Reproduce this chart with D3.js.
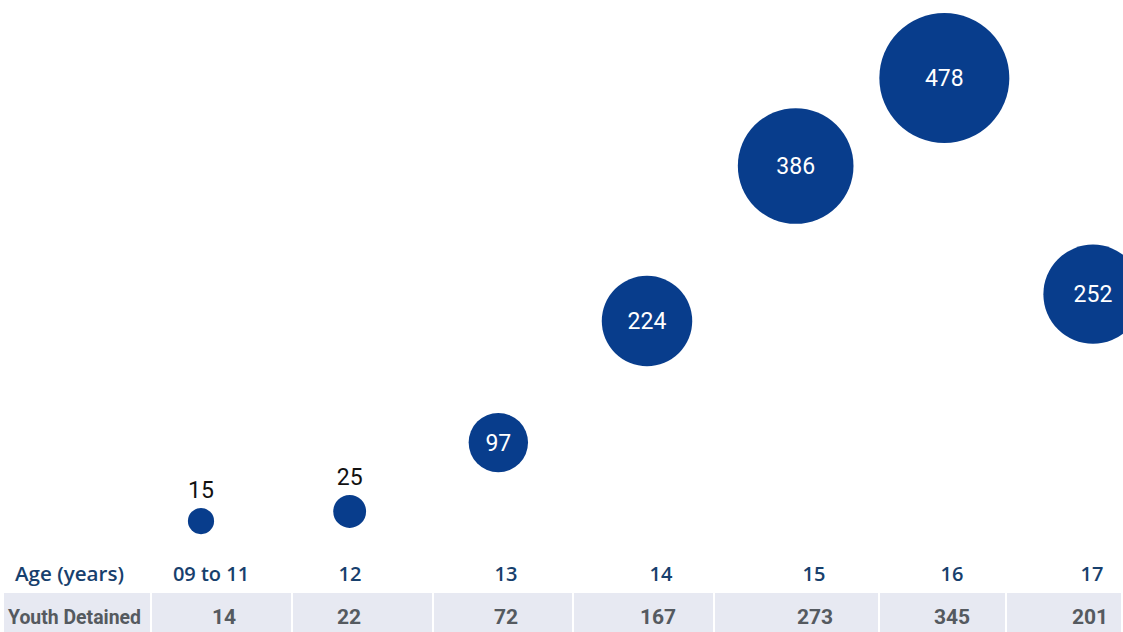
<!DOCTYPE html>
<html>
<head>
<meta charset="utf-8">
<script src="https://cdn.jsdelivr.net/npm/d3@7"></script>
<style>
  body { margin: 0; background: #fff; }
  svg { display: block; }
</style>
</head>
<body>
<svg width="1123" height="632"></svg>
<script>
// Age groups, bubble values (height + label) and youth detained (bubble size + table)
var ages = ["09 to 11", "12", "13", "14", "15", "16", "17"]
var bubbleValues = [15, 25, 97, 224, 386, 478, 252]
var detained = [14, 22, 72, 167, 273, 345, 201]

var svg = d3.select("svg"),
	width = +svg.attr("width"),
	height = +svg.attr("height")

var blue = "#083d8c"

// Bubble positions
var x = d3.scalePoint().domain(ages).range([201, 1093])
var y = d3.scaleLinear().domain([0, 500]).range([535.4, 56.9])
var r = d3.scaleSqrt().domain([0, 345]).range([0, 65])

var data = ages.map(function(a, i) {
	return { age: a, value: bubbleValues[i], detained: detained[i] }
})

// Table layout: column edges and text centres
var cellEdges = [4, 152, 293, 434, 574, 715, 880, 1007, 1123]
var ageTextX = [211, 350, 506, 661, 814, 952, 1092]
var numTextX = [224, 349, 506, 658, 815, 952, 1090]

var table = svg.append("g")

// Grey row for "Youth Detained"
table.selectAll(".cell")
	.data(d3.pairs(cellEdges))
	.enter().append("rect")
		.attr("class", "cell")
		.attr("x", function(d) { return d[0] })
		.attr("y", 593)
		.attr("width", function(d) { return d[1] - d[0] - 2 })
		.attr("height", height - 593)
		.attr("fill", "#e7e9f2")

table.append("text")
	.attr("x", 15)
	.attr("y", 581)
	.attr("font-family", "Open Sans, sans-serif")
	.attr("font-size", 20)
	.attr("font-weight", 600)
	.attr("textLength", 109)
	.attr("lengthAdjust", "spacingAndGlyphs")
	.attr("fill", "#17406d")
	.text("Age (years)")

table.selectAll(".age")
	.data(ages)
	.enter().append("text")
		.attr("class", "age")
		.attr("x", function(d, i) { return ageTextX[i] })
		.attr("y", 581)
		.attr("text-anchor", "middle")
		.attr("font-family", "Open Sans, sans-serif")
		.attr("font-size", 20)
		.attr("font-weight", 600)
		.attr("fill", "#17406d")
		.text(function(d) { return d })

// Condensed bold look for the grey row
table.append("text")
	.attr("x", 8)
	.attr("y", 624)
	.attr("font-family", "Roboto, sans-serif")
	.attr("font-size", 21)
	.attr("font-weight", "bold")
	.attr("textLength", 133)
	.attr("lengthAdjust", "spacingAndGlyphs")
	.attr("fill", "#555a60")
	.text("Youth Detained")

table.selectAll(".num")
	.data(detained)
	.enter().append("text")
		.attr("class", "num")
		.attr("x", function(d, i) { return numTextX[i] })
		.attr("y", 624)
		.attr("text-anchor", "middle")
		.attr("font-family", "Roboto, sans-serif")
		.attr("font-size", 21)
		.attr("font-weight", "bold")
		.attr("fill", "#555a60")
		.text(function(d) { return d })

// Bubbles
var g = svg.append("g")

var bubble = g.selectAll(".bubble")
	.data(data)
	.enter().append("g")
		.attr("class", "bubble")
		.attr("transform", function(d) { return "translate(" + x(d.age) + "," + y(d.value) + ")" })

bubble.append("circle")
	.attr("r", function(d) { return r(d.detained) })
	.attr("fill", blue)

// Big bubbles get a white label inside, small ones a black label above
bubble.append("text")
	.attr("text-anchor", "middle")
	.attr("font-family", "Roboto, sans-serif")
	.attr("font-size", 23)
	.attr("fill", function(d) { return r(d.detained) > 20 ? "#fff" : "#111" })
	.attr("y", function(d) { return r(d.detained) > 20 ? 8 : -r(d.detained) - 10 })
	.text(function(d) { return d.value })
</script>
</body>
</html>
